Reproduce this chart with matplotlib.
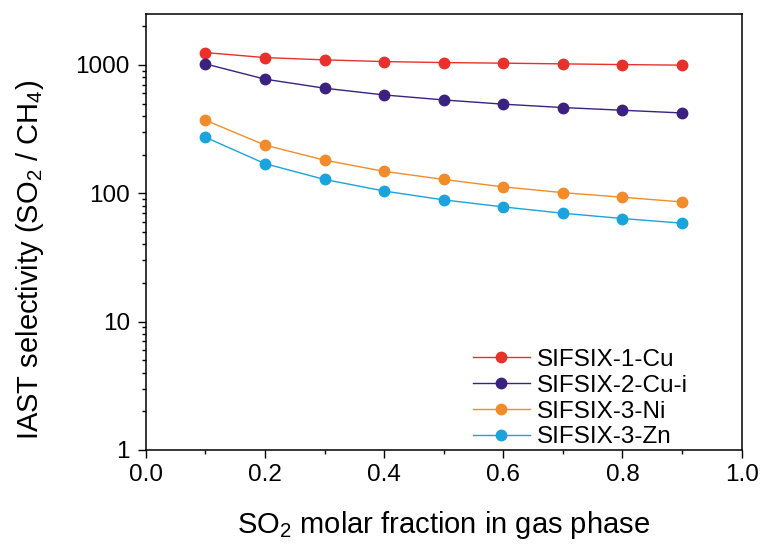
import matplotlib
matplotlib.use("Agg")
import matplotlib.pyplot as plt
from matplotlib.ticker import MultipleLocator, LogLocator, FixedLocator, NullFormatter

plt.rcParams['font.family'] = ['Liberation Sans', 'DejaVu Sans']
plt.rcParams['mathtext.fontset'] = 'custom'
plt.rcParams['mathtext.rm'] = 'Liberation Sans'
plt.rcParams['mathtext.it'] = 'Liberation Sans:italic'

# SO2 molar fraction
x = [0.1, 0.2, 0.3, 0.4, 0.5, 0.6, 0.7, 0.8, 0.9]

sifsix_1_cu = [1247, 1140, 1094, 1061, 1042, 1031, 1018, 1005, 995]
sifsix_2_cu_i = [1018, 774, 658, 583, 533, 494, 465, 443, 422]
sifsix_3_ni = [371, 237, 181, 148, 128, 112, 101, 93, 85.5]
sifsix_3_zn = [273, 170, 128, 104, 88.7, 78.2, 69.8, 63.5, 58.4]

labels = ["SIFSIX-1-Cu", "SIFSIX-2-Cu-i", "SIFSIX-3-Ni", "SIFSIX-3-Zn"]
colors = ["#e8312b", "#3b2180", "#f28c2a", "#1aa3dc"]

fig = plt.figure(figsize=(7.67, 5.52), dpi=100)
ax = fig.add_axes([0.19, 0.185, 0.777, 0.79])

for y, lab, c in zip([sifsix_1_cu, sifsix_2_cu_i, sifsix_3_ni, sifsix_3_zn], labels, colors):
    ax.plot(x, y, '-o', color=c, lw=1.0, markersize=7.5, label=lab)

ax.set_yscale('log')
ax.set_xlim(0.0, 1.0)
ax.set_ylim(1, 2500)

ax.xaxis.set_major_locator(MultipleLocator(0.2))
ax.xaxis.set_minor_locator(MultipleLocator(0.1))
ax.yaxis.set_major_locator(FixedLocator([1, 10, 100, 1000]))
ax.yaxis.set_minor_locator(LogLocator(base=10, subs=range(2, 10)))
ax.yaxis.set_minor_formatter(NullFormatter())
ax.set_yticklabels(["1", "10", "100", "1000"])
ax.set_xticklabels([f"{v:.1f}" for v in ax.get_xticks()])

ax.tick_params(which='both', direction='out', top=False, right=False, labelsize=17.5, width=1)
ax.tick_params(which='major', length=5.5)
ax.tick_params(which='minor', length=3)
ax.tick_params(axis='x', pad=5)
ax.tick_params(axis='y', pad=6)
for s in ax.spines.values():
    s.set_linewidth(1.1)

ax.set_xlabel("SO$_2$ molar fraction in gas phase", fontsize=21, labelpad=16)
ax.set_ylabel("IAST selectivity (SO$_2$ / CH$_4$)", fontsize=21)
ax.yaxis.set_label_coords(-0.168, 0.436)

ax.legend(loc='upper left', bbox_to_anchor=(0.549, 0.232), frameon=False, fontsize=17.5,
          handlelength=2.35, handletextpad=0.29, labelspacing=0.16,
          borderpad=0, borderaxespad=0)

fig.savefig("out.png", dpi=100)
